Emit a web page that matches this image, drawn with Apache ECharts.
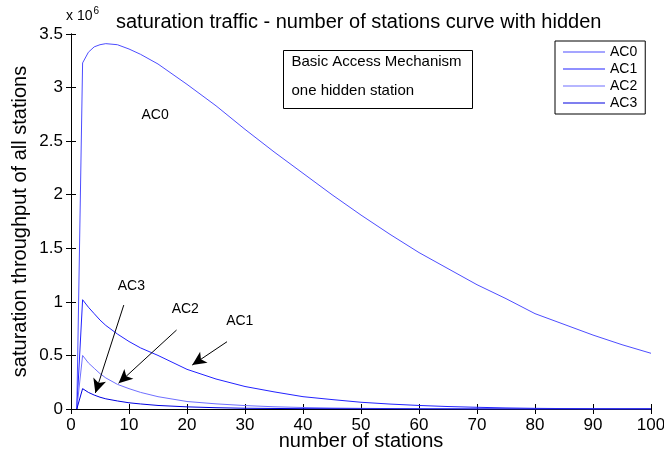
<!DOCTYPE html>
<html>
<head>
<meta charset="utf-8">
<script src="https://cdn.jsdelivr.net/npm/echarts@6/dist/echarts.min.js"></script>
<style>
  html, body { margin: 0; padding: 0; background: #fff; }
  #main { width: 664px; height: 454px; }
</style>
</head>
<body>
<div id="main"></div>
<script>
// number of stations (x samples)
var stations = [1, 2, 3, 4, 5, 6, 8, 10, 12, 15, 20, 25, 30, 35, 40, 45, 50, 55, 60, 65, 70, 75, 80, 85, 90, 95, 100];
// saturation throughput, x 10^6
var ac0 = [0, 3.23, 3.33, 3.38, 3.40, 3.41, 3.40, 3.36, 3.31, 3.22, 3.03, 2.83, 2.61, 2.40, 2.20, 2.00, 1.81, 1.63, 1.46, 1.31, 1.16, 1.03, 0.89, 0.79, 0.69, 0.60, 0.52];
var ac1 = [0, 1.02, 0.95, 0.89, 0.83, 0.78, 0.70, 0.63, 0.57, 0.50, 0.37, 0.28, 0.21, 0.16, 0.115, 0.088, 0.063, 0.046, 0.033, 0.023, 0.016, 0.010, 0.006, 0.004, 0.002, 0.001, 0.001];
var ac2 = [0, 0.50, 0.43, 0.38, 0.33, 0.29, 0.23, 0.19, 0.155, 0.115, 0.07, 0.048, 0.032, 0.021, 0.014, 0.009, 0.006, 0.004, 0.003, 0.002, 0.001, 0.001, 0, 0, 0, 0, 0];
var ac3 = [0, 0.19, 0.155, 0.13, 0.11, 0.095, 0.075, 0.058, 0.047, 0.033, 0.02, 0.012, 0.007, 0.005, 0.003, 0.002, 0.001, 0.001, 0, 0, 0, 0, 0, 0, 0, 0, 0];
var names = ["AC0", "AC1", "AC2", "AC3"];
var colors = ["#4d4dff", "#2222ff", "#6f6fff", "#0000e0"];

var FONT = "Liberation Sans, Arial, Helvetica, sans-serif";

function pairs(ys) {
  var out = [];
  for (var i = 0; i < stations.length; i++) out.push([stations[i], ys[i]]);
  return out;
}

var chart = echarts.init(document.getElementById("main"));

var axisCommon = {
  axisLine: { show: true, lineStyle: { color: "#000", width: 1 } },
  axisTick: { show: true, inside: true, length: 5, lineStyle: { color: "#000" } },
  splitLine: { show: false }
};

var series = [ac0, ac1, ac2, ac3].map(function (d, i) {
  return {
    name: names[i],
    type: "line",
    data: pairs(d),
    symbol: "none",
    smooth: false,
    lineStyle: { width: 1, color: colors[i] },
    itemStyle: { color: colors[i] },
    z: 3
  };
});

// arrows and curve labels
series.push({
  name: "annot",
  type: "line",
  data: [],
  silent: true,
  markLine: {
    silent: true,
    symbol: ["none", "arrow"],
    symbolSize: [10, 14],
    lineStyle: { color: "#000", width: 1, type: "solid" },
    label: { show: false },
    data: [
      [{ coord: [9.1, 0.97] }, { coord: [4.2, 0.15] }],
      [{ coord: [18.2, 0.737] }, { coord: [8.2, 0.24] }],
      [{ coord: [26.9, 0.628] }, { coord: [20.9, 0.41] }]
    ]
  },
  markPoint: {
    silent: true,
    symbol: "circle",
    symbolSize: 1,
    itemStyle: { color: "rgba(0,0,0,0)" },
    label: { show: true, position: "inside", color: "#000", fontFamily: FONT, fontSize: 14, formatter: "{b}" },
    data: [
      { name: "AC0", coord: [14.5, 2.74] },
      { name: "AC3", coord: [10.4, 1.15] },
      { name: "AC2", coord: [19.7, 0.93] },
      { name: "AC1", coord: [29.1, 0.82] }
    ]
  }
});

chart.setOption({
  backgroundColor: "#fff",
  animation: false,
  textStyle: { fontFamily: FONT },
  title: {
    text: "saturation traffic - number of stations curve with hidden",
    left: 111,
    top: 7,
    textStyle: { fontFamily: FONT, fontSize: 20, fontWeight: "normal", color: "#000" }
  },
  grid: { left: 71, right: 13, top: 34, bottom: 45, containLabel: false, outerBoundsMode: "none" },
  legend: {
    data: names,
    orient: "vertical",
    left: 555,
    top: 41,
    icon: "rect",
    itemWidth: 42,
    itemHeight: 1,
    itemGap: 3,
    padding: [4, 8, 4, 8],
    borderColor: "#000",
    borderWidth: 1,
    backgroundColor: "#fff",
    textStyle: { fontFamily: FONT, fontSize: 14, color: "#000", lineHeight: 14 },
    z: 10
  },
  xAxis: [
    Object.assign({
      type: "value", min: 0, max: 100, interval: 10, position: "bottom",
      name: "number of stations", nameLocation: "middle", nameGap: 22, nameMoveOverlap: false,
      nameTextStyle: { fontFamily: FONT, fontSize: 20, color: "#000" },
      axisLabel: { color: "#000", fontFamily: FONT, fontSize: 17, margin: 8 }
    }, axisCommon),
    Object.assign({
      type: "value", min: 0, max: 100, interval: 10, position: "top",
      axisLabel: { show: false }
    }, axisCommon)
  ],
  yAxis: [
    Object.assign({
      type: "value", min: 0, max: 3.5, interval: 0.5, position: "left",
      name: "saturation throughput of all stations", nameLocation: "middle", nameGap: 41, nameMoveOverlap: false,
      nameTextStyle: { fontFamily: FONT, fontSize: 20, color: "#000" },
      axisLabel: { color: "#000", fontFamily: FONT, fontSize: 17, margin: 8 }
    }, axisCommon),
    Object.assign({
      type: "value", min: 0, max: 3.5, interval: 0.5, position: "right",
      axisLabel: { show: false }
    }, axisCommon)
  ],
  graphic: [
    {
      type: "text",
      left: 66,
      top: 6,
      style: {
        text: "x 10{s|6}",
        fontFamily: FONT,
        fontSize: 14,
        fill: "#000",
        rich: { s: { fontSize: 10, verticalAlign: "top", padding: [0, 0, 10, 1], fontFamily: FONT } }
      }
    },
    {
      type: "group",
      left: 283,
      top: 50,
      z: 10,
      children: [
        { type: "rect", shape: { x: 0, y: 0, width: 189, height: 58 },
          style: { fill: "#fff", stroke: "#000", lineWidth: 1 } },
        { type: "text", x: 8, y: 11, style: { text: "Basic Access Mechanism", fontFamily: FONT, fontSize: 15, fill: "#000", textVerticalAlign: "middle" } },
        { type: "text", x: 8, y: 40, style: { text: "one hidden station", fontFamily: FONT, fontSize: 15, fill: "#000", textVerticalAlign: "middle" } }
      ]
    }
  ],
  series: series
});
</script>
</body>
</html>
